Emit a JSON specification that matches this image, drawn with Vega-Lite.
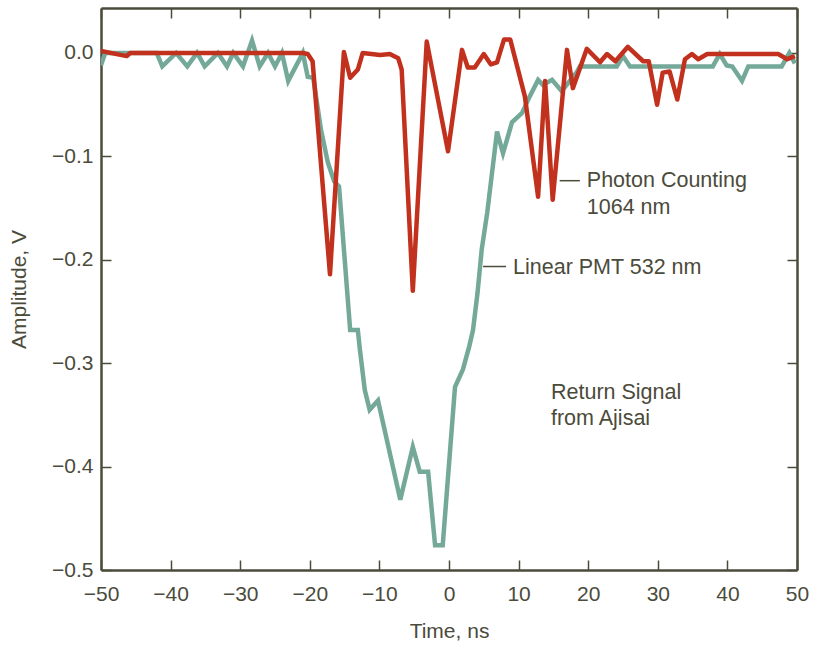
{
  "$schema": "https://vega.github.io/schema/vega-lite/v6.json",
  "width": 696,
  "height": 562,
  "autosize": "none",
  "padding": {"left": 101, "top": 8, "right": 17, "bottom": 75},
  "background": "white",
  "config": {
    "view": {"stroke": null},
    "font": "Liberation Sans",
    "axis": {
      "domainColor": "#4b4b3b",
      "domainWidth": 2.5,
      "tickColor": "#4b4b3b",
      "tickWidth": 1.5,
      "tickSize": -10,
      "grid": false,
      "labelFont": "Liberation Sans",
      "labelFontSize": 21,
      "labelColor": "#4b4b3b",
      "titleFont": "Liberation Sans",
      "titleFontSize": 21,
      "titleFontWeight": "normal",
      "titleColor": "#4b4b3b"
    }
  },
  "datasets": {
    "green": [
      {"t": -50, "v": -0.012}, {"t": -49.4, "v": 0.0}, {"t": -42, "v": 0.0},
      {"t": -41.2, "v": -0.013}, {"t": -39.2, "v": 0.0}, {"t": -37.6, "v": -0.013},
      {"t": -36.2, "v": 0.0}, {"t": -35.1, "v": -0.013}, {"t": -33.2, "v": 0.0},
      {"t": -31.9, "v": -0.013}, {"t": -31.0, "v": 0.0}, {"t": -29.6, "v": -0.013},
      {"t": -28.3, "v": 0.012}, {"t": -27.2, "v": -0.013}, {"t": -26.0, "v": 0.0},
      {"t": -25.0, "v": -0.013}, {"t": -24.0, "v": 0.0}, {"t": -23.1, "v": -0.027},
      {"t": -21.0, "v": 0.0}, {"t": -20.3, "v": -0.023}, {"t": -19.5, "v": -0.024},
      {"t": -18.4, "v": -0.074}, {"t": -17.4, "v": -0.106}, {"t": -16.5, "v": -0.124},
      {"t": -15.8, "v": -0.129}, {"t": -14.2, "v": -0.268}, {"t": -13.1, "v": -0.268},
      {"t": -12.8, "v": -0.287}, {"t": -12.1, "v": -0.326}, {"t": -11.4, "v": -0.345},
      {"t": -10.2, "v": -0.336}, {"t": -7.0, "v": -0.432}, {"t": -5.2, "v": -0.381},
      {"t": -4.2, "v": -0.405}, {"t": -3.0, "v": -0.405}, {"t": -2.0, "v": -0.476},
      {"t": -0.9, "v": -0.476}, {"t": 0.86, "v": -0.323}, {"t": 2.0, "v": -0.306},
      {"t": 2.9, "v": -0.284}, {"t": 3.45, "v": -0.268}, {"t": 4.1, "v": -0.232},
      {"t": 4.7, "v": -0.19}, {"t": 5.5, "v": -0.154}, {"t": 6.9, "v": -0.076},
      {"t": 7.76, "v": -0.097}, {"t": 9.05, "v": -0.067}, {"t": 10.5, "v": -0.058},
      {"t": 11.6, "v": -0.042}, {"t": 12.8, "v": -0.026}, {"t": 13.5, "v": -0.031},
      {"t": 14.8, "v": -0.026}, {"t": 16.2, "v": -0.037}, {"t": 18.4, "v": -0.018},
      {"t": 18.8, "v": -0.013}, {"t": 24.1, "v": -0.013}, {"t": 25.0, "v": -0.003},
      {"t": 26.0, "v": -0.013}, {"t": 37.9, "v": -0.013}, {"t": 38.9, "v": -0.001},
      {"t": 39.9, "v": -0.012}, {"t": 40.7, "v": -0.013}, {"t": 42.1, "v": -0.027},
      {"t": 43.0, "v": -0.013}, {"t": 47.8, "v": -0.013}, {"t": 48.9, "v": 0.0},
      {"t": 49.7, "v": -0.01}
    ],
    "red": [
      {"t": -50, "v": 0.002}, {"t": -46.3, "v": -0.003}, {"t": -45.8, "v": 0.0},
      {"t": -21, "v": 0.0}, {"t": -20.3, "v": -0.001}, {"t": -19.6, "v": -0.008},
      {"t": -17.1, "v": -0.214}, {"t": -15.1, "v": 0.001}, {"t": -14.2, "v": -0.024},
      {"t": -13.1, "v": -0.016}, {"t": -12.4, "v": 0.0}, {"t": -9.9, "v": -0.002},
      {"t": -8.5, "v": -0.001}, {"t": -7.3, "v": -0.005}, {"t": -6.8, "v": -0.016},
      {"t": -5.2, "v": -0.23}, {"t": -3.2, "v": 0.011}, {"t": -0.14, "v": -0.095},
      {"t": 1.87, "v": 0.003}, {"t": 2.7, "v": -0.014}, {"t": 3.7, "v": -0.014},
      {"t": 5.0, "v": -0.001}, {"t": 6.0, "v": -0.011}, {"t": 6.9, "v": -0.009},
      {"t": 7.9, "v": 0.013}, {"t": 8.8, "v": 0.013}, {"t": 10.9, "v": -0.042},
      {"t": 12.8, "v": -0.139}, {"t": 13.8, "v": -0.027}, {"t": 14.9, "v": -0.142},
      {"t": 16.95, "v": 0.003}, {"t": 17.8, "v": -0.034}, {"t": 19.8, "v": 0.004},
      {"t": 21.7, "v": -0.009}, {"t": 22.7, "v": -0.001}, {"t": 23.9, "v": -0.008},
      {"t": 25.7, "v": 0.006}, {"t": 27.9, "v": -0.008}, {"t": 28.7, "v": -0.008},
      {"t": 29.9, "v": -0.05}, {"t": 30.7, "v": -0.019}, {"t": 31.7, "v": -0.018},
      {"t": 32.8, "v": -0.045}, {"t": 33.9, "v": -0.006}, {"t": 34.9, "v": -0.001},
      {"t": 35.8, "v": -0.006}, {"t": 37.1, "v": -0.001}, {"t": 47.3, "v": -0.001},
      {"t": 48.6, "v": -0.006}, {"t": 49.7, "v": -0.003}
    ],
    "labels": [
      {"t": 19.8, "v": -0.124, "text": "Photon Counting"},
      {"t": 19.8, "v": -0.1495, "text": "1064 nm"},
      {"t": 9.2, "v": -0.2075, "text": "Linear PMT 532 nm"},
      {"t": 14.65, "v": -0.329, "text": "Return Signal"},
      {"t": 14.65, "v": -0.354, "text": "from Ajisai"}
    ],
    "leaders": [
      {"t1": 15.9, "t2": 18.8, "v": -0.1235},
      {"t1": 4.9, "t2": 8.2, "v": -0.2065}
    ]
  },
  "resolve": {"axis": {"x": "independent", "y": "independent"}},
  "layer": [
    {
      "data": {"name": "green"},
      "mark": {"type": "line", "color": "#74a898", "strokeWidth": 4.5, "strokeJoin": "miter", "clip": true},
      "encoding": {
        "x": {"field": "t", "type": "quantitative",
              "scale": {"domain": [-50, 50], "nice": false, "zero": false},
              "axis": {"orient": "bottom", "title": "Time, ns", "values": [-50, -40, -30, -20, -10, 0, 10, 20, 30, 40, 50], "format": "d", "labelPadding": 23, "titlePadding": 16, "labelFlush": false}},
        "y": {"field": "v", "type": "quantitative",
              "scale": {"domain": [-0.5, 0.0435], "nice": false, "zero": false},
              "axis": {"orient": "left", "title": "Amplitude, V", "values": [-0.5, -0.4, -0.3, -0.2, -0.1, 0.0], "format": ".1f", "labelPadding": 18, "titlePadding": 22, "labelFlush": false}}
      }
    },
    {
      "data": {"name": "red"},
      "mark": {"type": "line", "color": "#c2311d", "strokeWidth": 4.5, "strokeJoin": "round", "clip": true},
      "encoding": {
        "x": {"field": "t", "type": "quantitative",
              "axis": {"orient": "top", "title": null, "labels": false, "values": [-50, -40, -30, -20, -10, 0, 10, 20, 30, 40, 50]}},
        "y": {"field": "v", "type": "quantitative",
              "axis": {"orient": "right", "title": null, "labels": false, "values": [-0.5, -0.4, -0.3, -0.2, -0.1, 0.0]}}
      }
    },
    {
      "data": {"name": "leaders"},
      "mark": {"type": "rule", "color": "#4b4b3b", "strokeWidth": 1.5},
      "encoding": {
        "x": {"field": "t1", "type": "quantitative", "axis": null},
        "x2": {"field": "t2"},
        "y": {"field": "v", "type": "quantitative", "axis": null}
      }
    },
    {
      "data": {"name": "labels"},
      "mark": {"type": "text", "align": "left", "baseline": "middle", "fontSize": 21.5, "color": "#4b4b3b", "font": "Liberation Sans"},
      "encoding": {
        "x": {"field": "t", "type": "quantitative", "axis": null},
        "y": {"field": "v", "type": "quantitative", "axis": null},
        "text": {"field": "text"}
      }
    }
  ]
}
